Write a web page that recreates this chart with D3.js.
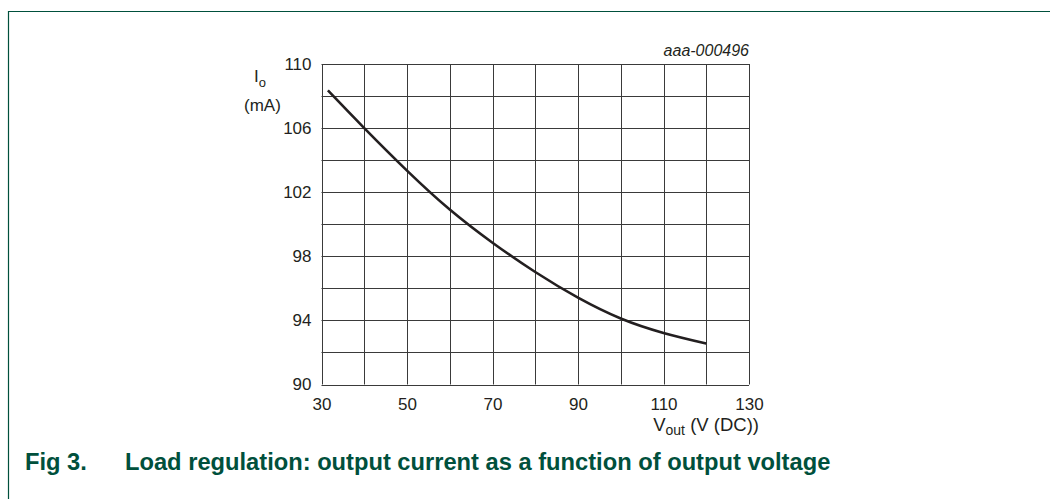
<!DOCTYPE html>
<html lang="en">
<head>
  <meta charset="utf-8">
  <title>Load regulation</title>
  <script src="https://cdn.jsdelivr.net/npm/d3@7/dist/d3.min.js"></script>
  <style>
    html, body { margin: 0; padding: 0; background: #fff; }
    svg { display: block; }
  </style>
</head>
<body>
<div id="chart"></div>
<script>
  // ── data ──
  const vout = [31.5, 40, 50, 60, 70, 80, 90, 100, 110, 120];
  const iout = [108.35, 106, 103.35, 100.92, 98.85, 97.02, 95.42, 94.12, 93.22, 92.56];
  const xTicks = [30, 50, 70, 90, 110, 130];
  const yTicks = [90, 94, 98, 102, 106, 110];
  const xGrid = d3.range(30, 131, 10);
  const yGrid = d3.range(90, 111, 2);

  const W = 1050, H = 499;
  const ink = '#231f20', green = '#00503c';

  const svg = d3.select('#chart').append('svg')
    .attr('width', W).attr('height', H)
    .attr('font-family', 'Liberation Sans, Arial, sans-serif');

  // frame (top + left only)
  svg.append('path')
    .attr('d', `M8.5,${H} V11.5 H${W}`)
    .attr('fill', 'none').attr('stroke', green).attr('stroke-width', 1.2);

  const x = d3.scaleLinear().domain([30, 130]).range([321.5, 749]);
  const y = d3.scaleLinear().domain([90, 110]).range([384.5, 64]);

  // grid
  const grid = svg.append('g').attr('stroke', '#3a3a3a').attr('stroke-width', 1);
  grid.selectAll('.vx').data(xGrid).join('line')
    .attr('x1', d => Math.round(x(d)) + 0.5).attr('x2', d => Math.round(x(d)) + 0.5)
    .attr('y1', y(90)).attr('y2', y(110));
  grid.selectAll('.hy').data(yGrid).join('line')
    .attr('y1', d => Math.round(y(d)) + 0.5).attr('y2', d => Math.round(y(d)) + 0.5)
    .attr('x1', x(30)).attr('x2', x(130));

  // axes (labels only, via d3 axes)
  const xAxis = svg.append('g')
    .attr('transform', `translate(0,${y(90)})`)
    .call(d3.axisBottom(x).tickValues(xTicks).tickSize(0).tickPadding(13).tickFormat(d3.format('d')));
  const yAxis = svg.append('g')
    .attr('transform', `translate(${x(30)},0)`)
    .call(d3.axisLeft(y).tickValues(yTicks).tickSize(0).tickPadding(10).tickFormat(d3.format('d')));
  [xAxis, yAxis].forEach(a => {
    a.select('.domain').remove();
    a.selectAll('text').attr('font-size', 17).attr('fill', ink)
      .attr('font-family', 'Liberation Sans, Arial, sans-serif');
  });

  // curve
  const line = d3.line()
    .x((d, i) => x(vout[i]))
    .y((d, i) => y(iout[i]))
    .curve(d3.curveNatural);
  svg.append('path')
    .datum(iout)
    .attr('d', line)
    .attr('fill', 'none').attr('stroke', ink).attr('stroke-width', 2.6);

  // y label
  const yl = svg.append('text').attr('font-size', 17).attr('fill', ink)
    .attr('x', 254).attr('y', 82);
  yl.append('tspan').text('I');
  yl.append('tspan').attr('font-size', 13).attr('dy', 5).text('o');
  svg.append('text').attr('font-size', 17).attr('fill', ink)
    .attr('x', 244).attr('y', 111).text('(mA)');

  // x label
  const xl = svg.append('text').attr('font-size', 18.5).attr('fill', ink)
    .attr('x', 759).attr('y', 431).attr('text-anchor', 'end');
  xl.append('tspan').text('V');
  xl.append('tspan').attr('font-size', 14).attr('dy', 4).text('out');
  xl.append('tspan').attr('dy', -4).text(' (V (DC))');

  // figure id
  svg.append('text').attr('font-size', 16).attr('font-style', 'italic').attr('fill', ink)
    .attr('x', 749).attr('y', 56).attr('text-anchor', 'end').text('aaa-000496');

  // caption
  const cap = svg.append('g').attr('fill', green).attr('font-weight', 'bold').attr('font-size', 23.7);
  cap.append('text').attr('x', 25).attr('y', 470).text('Fig 3.');
  cap.append('text').attr('x', 125).attr('y', 470)
    .text('Load regulation: output current as a function of output voltage');
</script>
</body>
</html>
